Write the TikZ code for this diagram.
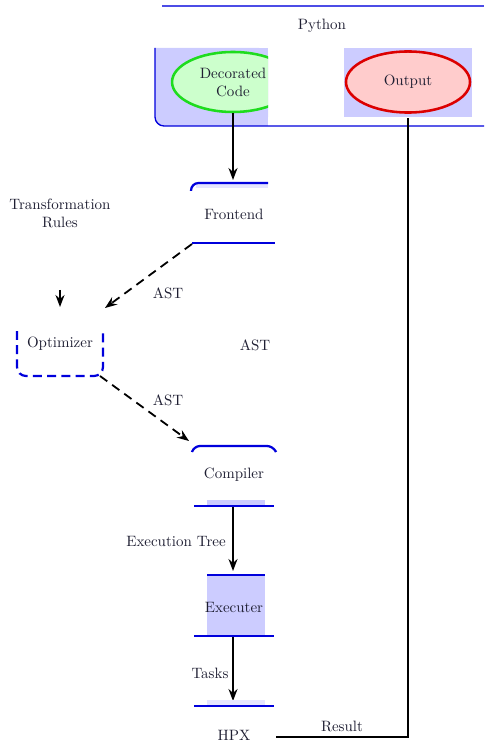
\documentclass[tikz,border=0pt]{standalone}
\usetikzlibrary{arrows.meta,shapes.geometric}
\definecolor{txt}{RGB}{30,30,50}
\definecolor{bl}{RGB}{0,0,220}
\definecolor{lblue}{RGB}{204,204,255}
\definecolor{lgr}{RGB}{204,255,204}
\definecolor{gr}{RGB}{30,220,30}
\definecolor{rd}{RGB}{220,0,0}
\definecolor{lrd}{RGB}{255,204,204}
\begin{document}
\begin{tikzpicture}[x=0.6667pt,y=-0.6667pt,
  lbl/.style={text=txt},
  bar/.style={draw=bl, line width=1.5pt},
  flow/.style={draw=black, line width=1.2pt, -{Stealth[length=8pt,width=6pt]}},
  dflow/.style={flow, dash pattern=on 6pt off 4pt},
  ell/.style={ellipse, line width=1.7pt, inner sep=0pt, text=txt, align=center}]
\useasboundingbox (0,0) rectangle (484,742);
% Python frame
\draw[draw=bl!70, line width=0.8pt] (162,6) -- (484,6);
\node[lbl] (python) at (322,26) {Python};
\fill[lblue, rounded corners=6pt] (155,48) -- (155,126) -- (268,126) -- (268,48) [sharp corners] -- cycle;
\fill[lblue] (260,48) rectangle (268,126);
\begin{scope}
  \clip (150,40) rectangle (268,130);
  \node[ell, draw=gr, fill=lgr, minimum width=81.3pt, minimum height=40pt] (deco) at (233,82) {Decorated\\Code};
\end{scope}
\draw[bl, line width=0.9pt, rounded corners=6pt] (155,48) -- (155,126) -- (484,126);
\fill[lblue] (344,48) rectangle (472,117);
\node[ell, draw=rd, fill=lrd, minimum width=82.7pt, minimum height=40.7pt] (out) at (408,82) {Output};
\coordinate (outb) at (408,118);
% Frontend
\coordinate (fetop) at (233,180);
\draw[flow] (deco.south) -- (fetop);
\fill[lblue!50] (196,183) rectangle (268,188);
\draw[bar, rounded corners=5pt] (191,191) -- (191,183) -- (268,183);
\node[lbl] (fe) at (234,214) {Frontend};
\draw[bar] (192,243) -- (275,243);
\coordinate (febl) at (192,244);
% Transformation rules
\node[lbl, align=center] (tr) at (60,213) {Transformation\\Rules};
\coordinate (tra) at (60,290);
\coordinate (trb) at (60,307);
\draw[flow] (tra) -- (trb);
% AST to optimizer
\coordinate (opttr) at (105,308);
\draw[dflow] (febl) -- (opttr);
\node[lbl] (ast1) at (168,293) {AST};
% Optimizer
\node[lbl] (opt) at (60,344) {Optimizer};
\draw[bl, dash pattern=on 6pt off 3.5pt, line width=1.5pt, rounded corners=6pt] (17,331) -- (17,376) -- (103,376) -- (103,331);
\node[lbl] (ast2) at (255,345) {AST};
\coordinate (optbr) at (100,376);
\coordinate (cotop) at (189,441);
\draw[dflow] (optbr) -- (cotop);
\node[lbl] (ast3) at (168,400) {AST};
% Compiler
\draw[bar, rounded corners=4pt] (192,452) -- (194,446) -- (273,446) -- (276,452);
\node[lbl] (co) at (234,475) {Compiler};
\fill[lblue] (207,500) rectangle (265,506);
\draw[bar] (194,506) -- (274,506);
\coordinate (cob) at (233,507);
\coordinate (ext) at (233,571);
\draw[flow] (cob) -- (ext);
\node[lbl] (etl) at (176,541) {Execution Tree};
% Executer
\fill[lblue] (207,575) rectangle (265,637);
\draw[bar] (207,575) -- (265,575);
\draw[bar] (194,636) -- (274,636);
\node[lbl] (ex) at (234,607) {Executer};
\coordinate (exb) at (233,637);
\coordinate (hpxt) at (233,701);
\draw[flow] (exb) -- (hpxt);
\node[lbl] (tasks) at (210,673) {Tasks};
% HPX
\fill[lblue!50] (207,700) rectangle (265,706);
\draw[bar] (194,706) -- (274,706);
\node[lbl] (hpx) at (234,735) {HPX};
\coordinate (hpxr) at (276,737);
\draw[black, line width=1.2pt] (hpxr) -- (408,737) -- (outb);
\node[lbl] (res) at (342,726) {Result};
\end{tikzpicture}
\end{document}
